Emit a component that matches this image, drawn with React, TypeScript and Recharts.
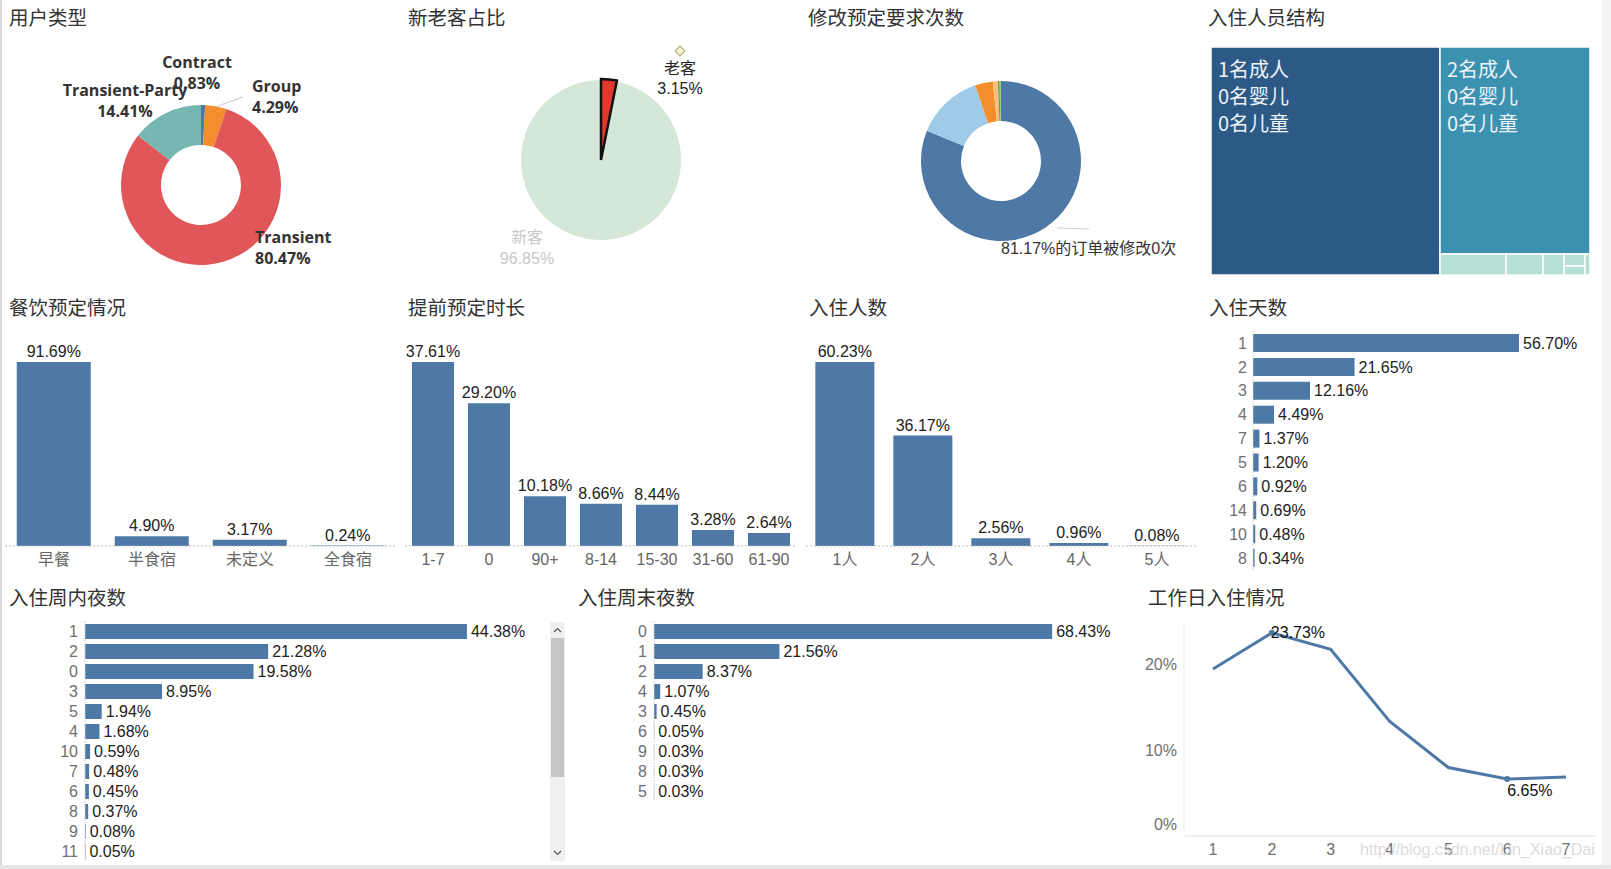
import React from 'react';
import {
  PieChart, Pie, Cell, BarChart, Bar, XAxis, YAxis, LabelList, LineChart, Line, Treemap,
} from 'recharts';

const NUM_FONT = "'Liberation Sans', Arial, 'Noto Sans CJK SC', sans-serif";
const CJK_FONT = "'Noto Sans CJK SC', 'Liberation Sans', sans-serif";
const BAR_BLUE = '#4e79a7';
const TICK_GREY = '#707070';

// ---- 用户类型 ----
const customerTypes = ['Contract', 'Group', 'Transient', 'Transient-Party'];
const customerShares = [0.83, 4.29, 80.47, 14.41];
const customerColors = ['#4e79a7', '#f28e2b', '#e15759', '#76b7b2'];

// ---- 新老客占比 ----
const guestKinds = ['老客', '新客'];
const guestShares = [3.15, 96.85];

// ---- 修改预定要求次数 ----
const changeTimes = ['0次', '1次', '2次', '3次', '4次', '5次及以上'];
const changeShares = [81.17, 13.6, 3.6, 1.0, 0.35, 0.28];
const changeColors = ['#4e79a7', '#a0cbe8', '#f28e2b', '#ffbe7d', '#59a14f', '#8cd17d'];

// ---- 入住人员结构 ----
const adultCounts = ['1名成人', '2名成人', '3名成人', '2名成人', '2名成人', '1名成人', '2名成人', '3名成人'];
const babyCounts = ['0名婴儿', '0名婴儿', '0名婴儿', '0名婴儿', '1名婴儿', '0名婴儿', '0名婴儿', '0名婴儿'];
const childCounts = ['0名儿童', '0名儿童', '0名儿童', '1名儿童', '0名儿童', '1名儿童', '2名儿童', '1名儿童'];
const structureShares = [60.4, 35.9, 1.6, 0.9, 0.5, 0.3, 0.2, 0.1];
const structureColors = ['#2d5986', '#3a91b0', '#b5e0d5', '#b5e0d5', '#b5e0d5', '#b5e0d5', '#b5e0d5', '#b5e0d5'];

// ---- 餐饮预定情况 ----
const mealTypes = ['早餐', '半食宿', '未定义', '全食宿'];
const mealShares = [91.69, 4.90, 3.17, 0.24];

// ---- 提前预定时长 ----
const leadRanges = ['1-7', '0', '90+', '8-14', '15-30', '31-60', '61-90'];
const leadShares = [37.61, 29.20, 10.18, 8.66, 8.44, 3.28, 2.64];

// ---- 入住人数 ----
const partySizes = ['1人', '2人', '3人', '4人', '5人'];
const partyShares = [60.23, 36.17, 2.56, 0.96, 0.08];

// ---- 入住天数 ----
const stayDays = ['1', '2', '3', '4', '7', '5', '6', '14', '10', '8'];
const stayShares = [56.70, 21.65, 12.16, 4.49, 1.37, 1.20, 0.92, 0.69, 0.48, 0.34];

// ---- 入住周内夜数 ----
const weekNights = ['1', '2', '0', '3', '5', '4', '10', '7', '6', '8', '9', '11'];
const weekNightShares = [44.38, 21.28, 19.58, 8.95, 1.94, 1.68, 0.59, 0.48, 0.45, 0.37, 0.08, 0.05];

// ---- 入住周末夜数 ----
const weekendNights = ['0', '1', '2', '4', '3', '6', '9', '8', '5'];
const weekendNightShares = [68.43, 21.56, 8.37, 1.07, 0.45, 0.05, 0.03, 0.03, 0.03];

// ---- 工作日入住情况 ----
const weekdays = ['1', '2', '3', '4', '5', '6', '7'];
const weekdayShares = [19.5, 23.73, 21.8, 13.4, 8.0, 6.65, 6.9];
const weekdayLabelled = [1, 5];

const toRows = (names: string[], values: number[]) => names.map((name, i) => ({ name, value: values[i] }));
const pct = (v: any) => `${Number(v).toFixed(2)}%`;

// label placement around each pie centre (text line centres)
const customerLabelLayout = [
  { dx: -4, dy: -123, anchor: 'middle' },
  { dx: 51, dy: -99, anchor: 'start' },
  { dx: 54, dy: 52, anchor: 'start' },
  { dx: -76, dy: -95, anchor: 'middle' },
];

const Title = ({ x, y, text }: { x: number; y: number; text: string }) => (
  <div
    style={{
      position: 'absolute', left: x, top: y, fontFamily: CJK_FONT, fontSize: 19.5,
      color: '#333', lineHeight: '26px', whiteSpace: 'nowrap',
    }}
  >
    {text}
  </div>
);

const renderCustomerLabel = (p: any) => {
  const lay = customerLabelLayout[p.index];
  const x = p.cx + lay.dx;
  const y = p.cy + lay.dy;
  return (
    <g key={`cl-${p.index}`}>
      {p.index === 1 && (
        <line x1={p.cx + 14} y1={p.cy - 78} x2={p.cx + 42} y2={p.cy - 88} stroke="#c8c8c8" strokeWidth={1} />
      )}
      <text x={x} y={y} textAnchor={lay.anchor} dominantBaseline="central" fontFamily="'Open Sans', 'Noto Sans', sans-serif" fontWeight={700} fontSize={16} fill="#333">
        {customerTypes[p.index]}
      </text>
      <text x={x} y={y + 21} textAnchor={lay.anchor} dominantBaseline="central" fontFamily="'Open Sans', 'Noto Sans', sans-serif" fontWeight={700} fontSize={16} fill="#333">
        {pct(customerShares[p.index])}
      </text>
    </g>
  );
};

const renderGuestLabel = (p: any) => {
  if (p.index === 0) {
    const x = p.cx + 79;
    const y = p.cy - 92;
    return (
      <g key="gl-0">
        <rect x={x - 3.5} y={p.cy - 112.5} width={7} height={7} fill="#f3efc6" stroke="#a9a77a" strokeWidth={1} transform={`rotate(45 ${x} ${p.cy - 109})`} />
        <text x={x} y={y} textAnchor="middle" dominantBaseline="central" fontFamily={NUM_FONT} fontSize={16} fill="#222">{guestKinds[0]}</text>
        <text x={x} y={y + 20} textAnchor="middle" dominantBaseline="central" fontFamily={NUM_FONT} fontSize={16} fill="#222">{pct(guestShares[0])}</text>
      </g>
    );
  }
  const x = p.cx - 74;
  const y = p.cy + 77;
  return (
    <g key="gl-1">
      <text x={x} y={y} textAnchor="middle" dominantBaseline="central" fontFamily={NUM_FONT} fontSize={16} fill="#c8c8c8">{guestKinds[1]}</text>
      <text x={x} y={y + 21} textAnchor="middle" dominantBaseline="central" fontFamily={NUM_FONT} fontSize={16} fill="#c8c8c8">{pct(guestShares[1])}</text>
    </g>
  );
};

const renderChangeLabel = (p: any) => {
  if (p.index !== 0) return <g key={`ch-${p.index}`} />;
  return (
    <g key="ch-0">
      <line x1={p.cx + 56} y1={p.cy + 67} x2={p.cx + 88} y2={p.cy + 68} stroke="#d0d0d0" strokeWidth={1} />
      <text x={p.cx} y={p.cy + 87} textAnchor="start" dominantBaseline="central" fontFamily={NUM_FONT} fontSize={16} fill="#333">
        {`${pct(changeShares[0])}的订单被修改0次`}
      </text>
    </g>
  );
};

const TreemapCell = (props: any) => {
  const { x, y, width, height, depth, index } = props;
  if (depth !== 1) return <g />;
  const lines = [adultCounts[index], babyCounts[index], childCounts[index]];
  return (
    <g>
      <rect x={x} y={y} width={width} height={height} fill={structureColors[index]} stroke="#fff" strokeWidth={1.5} />
      {width > 100 && height > 100 &&
        lines.map((t, i) => (
          <text key={i} x={x + 7} y={y + 21 + i * 27} dominantBaseline="central" fontFamily={CJK_FONT} fontSize={20} fill="#eef3f7">
            {t}
          </text>
        ))}
    </g>
  );
};

type VBarProps = { names: string[]; values: number[]; left: number; right: number; gap: string };
const VerticalBars = ({ names, values, left, right, gap }: VBarProps) => {
  const top = Math.max(...values);
  return (
    <BarChart width={400} height={290} data={toRows(names, values)} margin={{ top: 50, right, left, bottom: 0 }} barCategoryGap={gap}>
      <XAxis
        dataKey="name" interval={0} tickLine={false} height={24}
        axisLine={{ stroke: '#bdbdbd', strokeDasharray: '2 2' }}
        tick={{ fill: '#666', fontSize: 16, fontFamily: NUM_FONT }}
      />
      <YAxis hide domain={[0, top * 1.174]} />
      <Bar dataKey="value" fill={BAR_BLUE} isAnimationActive={false}>
        <LabelList dataKey="value" position="top" offset={5} formatter={pct} fill="#222" fontSize={16} fontFamily={NUM_FONT} />
      </Bar>
    </BarChart>
  );
};

type HBarProps = {
  names: string[]; values: number[]; width: number; height: number; marginTop: number; marginBottom: number;
  axisWidth: number; rightMargin: number; stretch: number; barSize: number; labelSize: number; tickSize: number; tickMargin: number;
};
const HorizontalBars = (p: HBarProps) => {
  const top = Math.max(...p.values);
  return (
    <BarChart
      layout="vertical" width={p.width} height={p.height} data={toRows(p.names, p.values)}
      margin={{ top: p.marginTop, right: p.rightMargin, left: 0, bottom: p.marginBottom }}
    >
      <XAxis type="number" hide domain={[0, top * p.stretch]} />
      <YAxis
        type="category" dataKey="name" width={p.axisWidth} interval={0} tickLine={false}
        tickSize={p.tickSize} tickMargin={p.tickMargin}
        axisLine={{ stroke: '#d6d6d6', strokeDasharray: '2 1' }}
        tick={{ fill: TICK_GREY, fontSize: 16, fontFamily: NUM_FONT }}
      />
      <Bar dataKey="value" fill={BAR_BLUE} barSize={p.barSize} isAnimationActive={false}>
        <LabelList dataKey="value" position="right" offset={4} formatter={pct} fill="#222" fontSize={p.labelSize} fontFamily={NUM_FONT} />
      </Bar>
    </BarChart>
  );
};

const renderPctTick = (p: any) => (
  <text
    x={p.x} y={p.payload.value === 0 ? p.y - 12 : p.y} textAnchor="end" dominantBaseline="central"
    fill={TICK_GREY} fontSize={16} fontFamily={NUM_FONT}
  >
    {`${p.payload.value}%`}
  </text>
);

const renderWeekdayDot = (p: any) =>
  weekdayLabelled.includes(p.index) ? (
    <circle key={`d-${p.index}`} cx={p.cx} cy={p.cy} r={3} fill={BAR_BLUE} />
  ) : (
    <g key={`d-${p.index}`} />
  );

const renderWeekdayLabel = (p: any) => {
  if (!weekdayLabelled.includes(p.index)) return null;
  const below = p.index === 5;
  return (
    <text
      x={below ? p.x : p.x - 1} y={below ? p.y + 11 : p.y} textAnchor="start" dominantBaseline="central"
      fill="#111" fontSize={16} fontFamily={NUM_FONT}
    >
      {pct(p.value)}
    </text>
  );
};

const Chevron = ({ x, y, up }: { x: number; y: number; up: boolean }) => (
  <svg style={{ position: 'absolute', left: x, top: y }} width={9} height={6}>
    <polyline points={up ? '1,5 4.5,1.5 8,5' : '1,1 4.5,4.5 8,1'} fill="none" stroke="#555" strokeWidth={1.2} />
  </svg>
);

export default function App() {
  const customerData = toRows(customerTypes, customerShares);
  const guestData = toRows(guestKinds, guestShares);
  const changeData = toRows(changeTimes, changeShares);
  const structureData = structureShares.map((value, i) => ({
    name: `${adultCounts[i]} ${babyCounts[i]} ${childCounts[i]}`,
    value,
  }));

  return (
    <div style={{ position: 'absolute', left: 0, top: 0, width: 1611, height: 869, background: '#fff', overflow: 'hidden' }}>
      {/* frame */}
      <div style={{ position: 'absolute', left: 0, top: 0, width: 2, height: 869, background: '#d9d9d9' }} />
      <div style={{ position: 'absolute', left: 1602, top: 0, width: 9, height: 869, background: '#f3f3f3' }} />
      <div style={{ position: 'absolute', left: 0, top: 865, width: 1611, height: 4, background: '#e6e6e6' }} />

      {/* row 1 */}
      <Title x={9} y={4} text="用户类型" />
      <Title x={408} y={4} text="新老客占比" />
      <Title x={808} y={4} text="修改预定要求次数" />
      <Title x={1208} y={4} text="入住人员结构" />

      <div style={{ position: 'absolute', left: 0, top: 0 }}>
        <PieChart width={400} height={280} margin={{ top: 0, right: 0, bottom: 0, left: 0 }}>
          <Pie
            data={customerData} dataKey="value" nameKey="name" cx={201} cy={185} innerRadius={40} outerRadius={80}
            startAngle={90} endAngle={-270} stroke="none" isAnimationActive={false}
            label={renderCustomerLabel} labelLine={false}
          >
            {customerData.map((d, i) => <Cell key={d.name} fill={customerColors[i]} />)}
          </Pie>
        </PieChart>
      </div>

      <div style={{ position: 'absolute', left: 400, top: 0 }}>
        <PieChart width={400} height={280} margin={{ top: 0, right: 0, bottom: 0, left: 0 }}>
          <Pie
            data={guestData} dataKey="value" nameKey="name" cx={201} cy={160} innerRadius={0} outerRadius={80}
            startAngle={90} endAngle={-270} stroke="none" isAnimationActive={false}
          >
            <Cell fill="#e2372f" />
            <Cell fill="#d4e7d9" />
          </Pie>
          <Pie
            data={guestData} dataKey="value" nameKey="name" cx={201} cy={160} innerRadius={0} outerRadius={81}
            startAngle={90} endAngle={-270} isAnimationActive={false}
            label={renderGuestLabel} labelLine={false}
          >
            <Cell fill="#e2372f" stroke="#111" strokeWidth={2.5} />
            <Cell fill="none" stroke="none" />
          </Pie>
        </PieChart>
      </div>

      <div style={{ position: 'absolute', left: 800, top: 0 }}>
        <PieChart width={400} height={280} margin={{ top: 0, right: 0, bottom: 0, left: 0 }}>
          <Pie
            data={changeData} dataKey="value" nameKey="name" cx={201} cy={161} innerRadius={40} outerRadius={80}
            startAngle={90} endAngle={-270} stroke="none" isAnimationActive={false}
            label={renderChangeLabel} labelLine={false}
          >
            {changeData.map((d, i) => <Cell key={d.name} fill={changeColors[i]} />)}
          </Pie>
        </PieChart>
      </div>

      <div style={{ position: 'absolute', left: 1211, top: 47 }}>
        <Treemap
          width={379} height={228} data={structureData} dataKey="value"
          isAnimationActive={false} content={<TreemapCell />}
        />
      </div>

      {/* row 2 */}
      <Title x={9} y={294} text="餐饮预定情况" />
      <Title x={408} y={294} text="提前预定时长" />
      <Title x={809} y={294} text="入住人数" />
      <Title x={1209} y={294} text="入住天数" />

      <div style={{ position: 'absolute', left: 0, top: 280 }}>
        <VerticalBars names={mealTypes} values={mealShares} left={5} right={3} gap="12%" />
      </div>
      <div style={{ position: 'absolute', left: 400, top: 280 }}>
        <VerticalBars names={leadRanges} values={leadShares} left={5} right={3} gap="12.5%" />
      </div>
      <div style={{ position: 'absolute', left: 800, top: 280 }}>
        <VerticalBars names={partySizes} values={partyShares} left={6} right={4} gap="12%" />
      </div>
      <div style={{ position: 'absolute', left: 1200, top: 280 }}>
        <HorizontalBars
          names={stayDays} values={stayShares} width={402} height={290} marginTop={51} marginBottom={0}
          axisWidth={53} rightMargin={8} stretch={1.282} barSize={18} labelSize={16} tickSize={6} tickMargin={0}
        />
      </div>

      {/* row 3 */}
      <Title x={9} y={584} text="入住周内夜数" />
      <Title x={578} y={584} text="入住周末夜数" />
      <Title x={1148} y={584} text="工作日入住情况" />

      <div style={{ position: 'absolute', left: 0, top: 570 }}>
        <HorizontalBars
          names={weekNights} values={weekNightShares} width={548} height={299} marginTop={51} marginBottom={8}
          axisWidth={85} rightMargin={10} stretch={1.186} barSize={15} labelSize={16} tickSize={5} tickMargin={2}
        />
      </div>
      {/* scroll bar beside the week-night list */}
      <div style={{ position: 'absolute', left: 550, top: 622, width: 15, height: 239, background: '#f0f0f0' }} />
      <div style={{ position: 'absolute', left: 551, top: 638, width: 13, height: 139, background: '#c6c6c6' }} />
      <Chevron x={553} y={627} up />
      <Chevron x={553} y={850} up={false} />

      <div style={{ position: 'absolute', left: 570, top: 570 }}>
        <HorizontalBars
          names={weekendNights} values={weekendNightShares} width={560} height={240} marginTop={51} marginBottom={9}
          axisWidth={84} rightMargin={50} stretch={1.07} barSize={15} labelSize={16} tickSize={5} tickMargin={2}
        />
      </div>

      <div style={{ position: 'absolute', left: 1130, top: 570 }}>
        <LineChart width={472} height={299} data={toRows(weekdays, weekdayShares)} margin={{ top: 52, right: 7, left: 0, bottom: 0 }}>
          <XAxis
            dataKey="name" height={33} interval={0} tickLine={false} padding={{ left: 29, right: 29 }}
            axisLine={{ stroke: '#e2e2e2' }} tick={{ fill: TICK_GREY, fontSize: 16, fontFamily: NUM_FONT }}
          />
          <YAxis
            width={54} domain={[0, 25]} ticks={[0, 10, 20]} tickLine={false} tickSize={5} tickMargin={2}
            axisLine={{ stroke: '#eeeeee' }} tick={renderPctTick}
          />
          <Line
            dataKey="value" stroke={BAR_BLUE} strokeWidth={3} dot={renderWeekdayDot} activeDot={false}
            isAnimationActive={false} type="linear"
          >
            <LabelList dataKey="value" content={renderWeekdayLabel} />
          </Line>
        </LineChart>
      </div>
      <div
        style={{
          position: 'absolute', left: 1360, top: 840, fontFamily: NUM_FONT, fontSize: 16,
          color: '#dcdcdc', whiteSpace: 'nowrap', lineHeight: '20px',
        }}
      >
        http://blog.csdn.net/Lin_Xiao_Dai
      </div>
    </div>
  );
}
